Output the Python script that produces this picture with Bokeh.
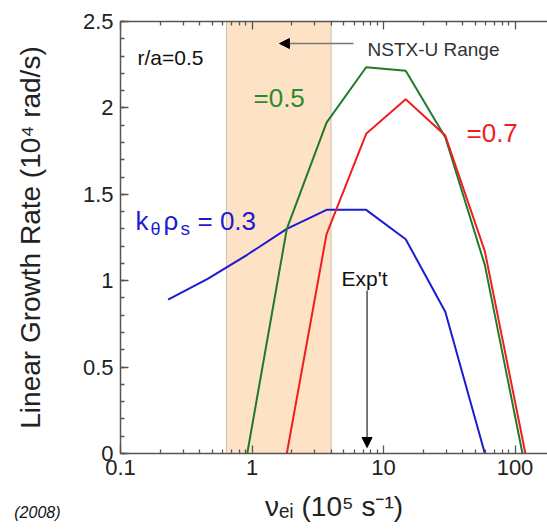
import math
from bokeh.plotting import figure
from bokeh.models import (Range1d, LogAxis, FixedTicker, SingleIntervalTicker, Label,
                          Arrow, NormalHead, BoxAnnotation, CustomJSTickFormatter)
from bokeh.embed import file_html
from bokeh.resources import INLINE

# ---------------- data ----------------
nu_03 = [0.23, 0.46, 0.92, 1.84, 3.69, 7.38, 14.75, 29.5, 59.0]
gamma_03 = [0.89, 1.01, 1.15, 1.30, 1.41, 1.41, 1.24, 0.82, 0.0]

nu_05 = [0.92, 1.84, 3.69, 7.38, 14.75, 29.5, 59.0, 114.0]
gamma_05 = [0.0, 1.30, 1.915, 2.235, 2.215, 1.83, 1.09, 0.0]

nu_07 = [1.84, 3.69, 7.38, 14.75, 29.5, 59.0, 120.0]
gamma_07 = [0.0, 1.27, 1.85, 2.05, 1.84, 1.17, 0.0]

nstx_range = [0.64, 4.0]
exp_nu = 7.5

x_major = [0.1, 1, 10, 100]
y_major_interval = 0.5

x_title = "νₑᵢ (10⁵ s⁻¹)"
y_title = "Linear Growth Rate (10⁴ rad/s)"

# ---------------- layout helpers ----------------
FONT = "Liberation Sans"
W, H = 547, 532
X0, DEC = 120.0, 131.5      # px of x=0.1, px per decade
Y0, SY = 453.0, 172.8       # px of y=0, px per unit
TOP = 21
FRAME_W = W - int(X0)
x_end = 0.1 * 10 ** (FRAME_W / DEC)


def dx(px):
    return 0.1 * 10 ** ((px - X0) / DEC)


def dy(py):
    return (Y0 - py) / SY


BLUE = "#1b1bd2"
GREEN_L = "#1f7a2c"
GREEN_T = "#2a8c2a"
RED = "#f01e1e"
AXC = "#555555"

p = figure(width=W, height=H, x_axis_type="log",
           x_range=Range1d(0.1, x_end), y_range=Range1d(0, 2.5),
           output_backend="svg", toolbar_location=None,
           min_border_left=int(X0), min_border_right=0,
           min_border_top=TOP, min_border_bottom=H - TOP - 432)
p.outline_line_color = None
p.xgrid.visible = False
p.ygrid.visible = False
p.background_fill_color = "white"
p.border_fill_color = "white"

minor = [m * 10 ** e for e in (-1, 0, 1, 2) for m in range(2, 10)]


def style_axis(ax):
    ax.axis_line_color = AXC
    ax.axis_line_width = 1.5
    ax.major_tick_line_color = AXC
    ax.minor_tick_line_color = AXC
    ax.major_tick_line_width = 1.3
    ax.minor_tick_line_width = 1.3
    ax.major_tick_in = 8
    ax.major_tick_out = 0
    ax.minor_tick_in = 4
    ax.minor_tick_out = 0
    ax.major_label_text_font = FONT
    ax.major_label_text_font_size = "22px"
    ax.major_label_text_color = "#222222"
    ax.axis_label_text_font = FONT
    ax.axis_label_text_font_style = "normal"
    ax.axis_label_text_color = "#222222"


xa = p.xaxis[0]
xa.ticker = FixedTicker(ticks=x_major, minor_ticks=minor)
xa.formatter = CustomJSTickFormatter(code="return String(Number(tick.toPrecision(3)))")
style_axis(xa)
xa.major_label_standoff = 6
xa.axis_label = x_title
xa.axis_label_text_font_size = "28px"
xa.axis_label_standoff = 13

ya = p.yaxis[0]
ya.ticker = SingleIntervalTicker(interval=y_major_interval, num_minor_ticks=5)
ya.formatter = CustomJSTickFormatter(code="return String(Number(tick.toFixed(1)))")
style_axis(ya)
ya.major_label_standoff = 7
ya.axis_label = y_title
ya.axis_label_text_font_size = "28px"
ya.axis_label_standoff = 34

top = LogAxis(ticker=FixedTicker(ticks=x_major, minor_ticks=minor))
style_axis(top)
top.major_label_text_font_size = "1px"
top.major_label_text_color = None
top.major_label_standoff = 0
p.add_layout(top, "above")

# shaded NSTX-U range
box = BoxAnnotation(left=nstx_range[0], right=nstx_range[1], fill_color="#fde2c5",
                    fill_alpha=1.0, line_color="#555555", line_width=1, level="underlay")
p.add_layout(box)

# curves
p.line(nu_03, gamma_03, line_color=BLUE, line_width=2)
p.line(nu_05, gamma_05, line_color=GREEN_L, line_width=2)
p.line(nu_07, gamma_07, line_color=RED, line_width=2)


def mk(px, py, text, size, color="#111111", style="normal", align="left", angle=0.0):
    return Label(x=dx(px), y=dy(py), text=text, text_font=FONT,
                 text_font_size=f"{size}px", text_color=color,
                 text_font_style=style, text_align=align,
                 text_baseline="alphabetic", angle=angle)


def lab(*a, **k):
    p.add_layout(mk(*a, **k))


# annotations inside the frame
lab(137, 57, "r/a=0.5", 21)
lab(367, 49, "NSTX-U Range", 19, "#333333")
p.add_layout(Arrow(end=NormalHead(size=10, fill_color="black", line_color="black"),
                   x_start=dx(353), y_start=dy(43), x_end=dx(279), y_end=dy(43),
                   line_color="#777777", line_width=1.5))
lab(253, 97, "=0.5", 26, GREEN_T)
lab(466, 132, "=0.7", 26, RED)

lab(135, 220, "k", 26, BLUE)
lab(150, 228, "θ", 18, BLUE)
lab(163, 220, "ρ", 26, BLUE)
lab(180, 228, "s", 19, BLUE)
lab(197, 220, "= 0.3", 26, BLUE)

lab(341, 278, "Exp't", 21)
p.add_layout(Arrow(end=NormalHead(size=10, fill_color="black", line_color="black"),
                   x_start=exp_nu, y_start=dy(290), x_end=exp_nu, y_end=dy(447),
                   line_color="#222222", line_width=1.2))

# citation fragment at the bottom-left; lives in the (otherwise nearly empty) top
# side panel so it is not clipped to the frame, and is drawn at its data position
p.add_layout(mk(60, 512, "(2008)", 16, "#111111", style="italic", align="right"), "above")

open("out.html", "w").write(file_html(p, INLINE))
